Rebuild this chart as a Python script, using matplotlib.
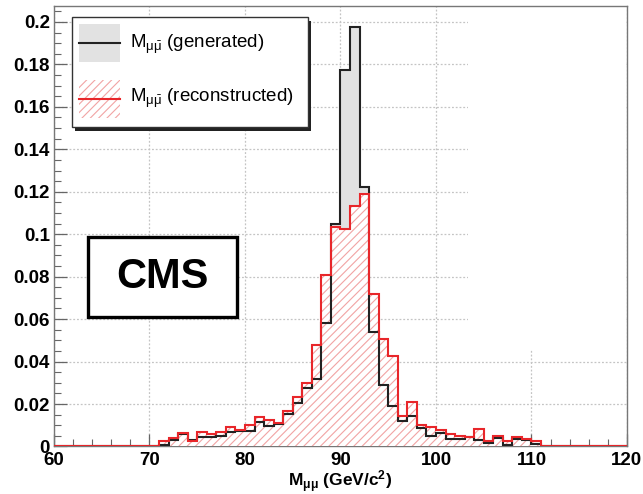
import numpy as np
import matplotlib
matplotlib.use("Agg")
from matplotlib import pyplot as plt
from matplotlib.patches import Rectangle
from matplotlib.ticker import FuncFormatter, MultipleLocator

plt.rcParams["font.family"] = ["Liberation Sans", "DejaVu Sans"]
plt.rcParams["mathtext.fontset"] = "custom"
plt.rcParams["mathtext.rm"] = "Liberation Sans"
plt.rcParams["mathtext.it"] = "Liberation Sans"
plt.rcParams["mathtext.bf"] = "Liberation Sans:bold"
plt.rcParams["hatch.linewidth"] = 0.8

# 1 GeV bins from 60 to 120
bin_edges = np.arange(60, 121, 1)

# M_mumu generated (bins 60..120, zero outside 71..111)
generated = [0.0] * 11 + [
    0.0008, 0.0030, 0.0060, 0.0030, 0.0045, 0.0045, 0.0050, 0.0070, 0.0075, 0.0072,
    0.0113, 0.0098, 0.0107, 0.0155, 0.0205, 0.0275, 0.0320, 0.0583, 0.1047, 0.1775,
    0.1975, 0.1220, 0.0540, 0.0290, 0.0190, 0.0120, 0.0143, 0.0086, 0.0050, 0.0062,
    0.0034, 0.0035, 0.0044, 0.0031, 0.0016, 0.0040, 0.0008, 0.0036, 0.0030, 0.0013,
] + [0.0] * 9

# M_mumu reconstructed
reconstructed = [0.0] * 11 + [
    0.0027, 0.0038, 0.0064, 0.0028, 0.0066, 0.0061, 0.0068, 0.0094, 0.0077, 0.0100,
    0.0137, 0.0125, 0.0112, 0.0168, 0.0235, 0.0297, 0.0476, 0.0807, 0.1035, 0.1024,
    0.1135, 0.1190, 0.0718, 0.0505, 0.0426, 0.0145, 0.0210, 0.0102, 0.0093, 0.0078,
    0.0058, 0.0047, 0.0044, 0.0083, 0.0024, 0.0050, 0.0027, 0.0044, 0.0036, 0.0024,
] + [0.0] * 9

gen_fill = "#e2e2e2"
reco_line = "#e8262a"
reco_hatch = "#f2a4a4"

fig = plt.figure(figsize=(6.43, 4.94), dpi=100)
ax = fig.add_axes([0.084, 0.0962, 0.891, 0.8917])

ax.stairs(generated, bin_edges, fill=True, facecolor=gen_fill, linewidth=0, zorder=2)
ax.stairs(reconstructed, bin_edges, fill=True, facecolor="white",
          edgecolor=reco_hatch, hatch="////", linewidth=0, zorder=3)
ax.stairs(generated, bin_edges, color="#222222", linewidth=1.5, zorder=4)
ax.stairs(reconstructed, bin_edges, color=reco_line, linewidth=1.5, zorder=5)

ax.set_xlim(60, 120)
ax.set_ylim(0, 0.2075)

ax.xaxis.set_major_locator(MultipleLocator(10))
ax.xaxis.set_minor_locator(MultipleLocator(2))
ax.yaxis.set_major_locator(MultipleLocator(0.02))
ax.yaxis.set_minor_locator(MultipleLocator(0.005))
ax.yaxis.set_major_formatter(FuncFormatter(lambda v, p: "%g" % round(v, 4)))

ax.tick_params(which="both", direction="in", top=False, right=False,
               color="#666666", labelsize=13.5)
ax.tick_params(which="major", length=9, width=0.9)
ax.tick_params(which="minor", length=5, width=0.8)
ax.tick_params(axis="y", pad=3)
ax.tick_params(axis="x", pad=4)
for lab in ax.get_xticklabels() + ax.get_yticklabels():
    lab.set_fontweight("bold")

ax.grid(True, which="major", color="#c4c4c4", linestyle=(0, (1.5, 1.5)),
        linewidth=0.9, zorder=0)
ax.set_axisbelow(True)
for sp in ax.spines.values():
    sp.set_color("#777777")
    sp.set_linewidth(1.0)

# blank patch over the upper right of the frame, as in the source image
ax.add_patch(Rectangle((0.722, 0.22), 0.276, 0.779, transform=ax.transAxes,
                       facecolor="white", edgecolor="none", zorder=1))

ax.set_xlabel(r"$\mathbf{M}_{\mathbf{\mu\mu}}$ (GeV/c$^{\mathbf{2}}$)",
              fontsize=12.5, fontweight="bold")
ax.xaxis.set_label_coords(0.5, -0.049)

# CMS box
ax.add_patch(Rectangle((0.059, 0.295), 0.26, 0.18, transform=ax.transAxes,
                       facecolor="white", edgecolor="black", linewidth=2.4, zorder=6))
ax.text(0.189, 0.385, "CMS", transform=ax.transAxes, ha="center", va="center",
        fontsize=30, fontweight="bold", zorder=7)

# legend drawn by hand (ROOT style with shadow)
lx0, lx1, ly0, ly1 = 0.0314, 0.443, 0.725, 0.975
ax.add_patch(Rectangle((lx0 + 0.006, ly0 - 0.008), lx1 - lx0, ly1 - ly0,
                       transform=ax.transAxes, facecolor="#222222",
                       edgecolor="none", zorder=8))
ax.add_patch(Rectangle((lx0, ly0), lx1 - lx0, ly1 - ly0, transform=ax.transAxes,
                       facecolor="white", edgecolor="#333333", linewidth=1.0, zorder=9))

ex0, ew = 0.044, 0.072
ax.add_patch(Rectangle((ex0, 0.872), ew, 0.086, transform=ax.transAxes,
                       facecolor=gen_fill, edgecolor="none", zorder=10))
ax.plot([ex0, ex0 + ew], [0.915, 0.915], transform=ax.transAxes,
        color="#222222", linewidth=1.5, zorder=11)
ax.add_patch(Rectangle((ex0, 0.745), ew, 0.087, transform=ax.transAxes,
                       facecolor="white", edgecolor=reco_hatch, hatch="////",
                       linewidth=0, zorder=10))
ax.plot([ex0, ex0 + ew], [0.788, 0.788], transform=ax.transAxes,
        color=reco_line, linewidth=1.5, zorder=11)

ax.text(0.133, 0.912, r"M$_{\mu\bar{\mu}}$ (generated)", transform=ax.transAxes,
        ha="left", va="center", fontsize=13.5, zorder=12)
ax.text(0.133, 0.790, r"M$_{\mu\bar{\mu}}$ (reconstructed)", transform=ax.transAxes,
        ha="left", va="center", fontsize=13.5, zorder=12)

fig.savefig("out.png", dpi=100)
